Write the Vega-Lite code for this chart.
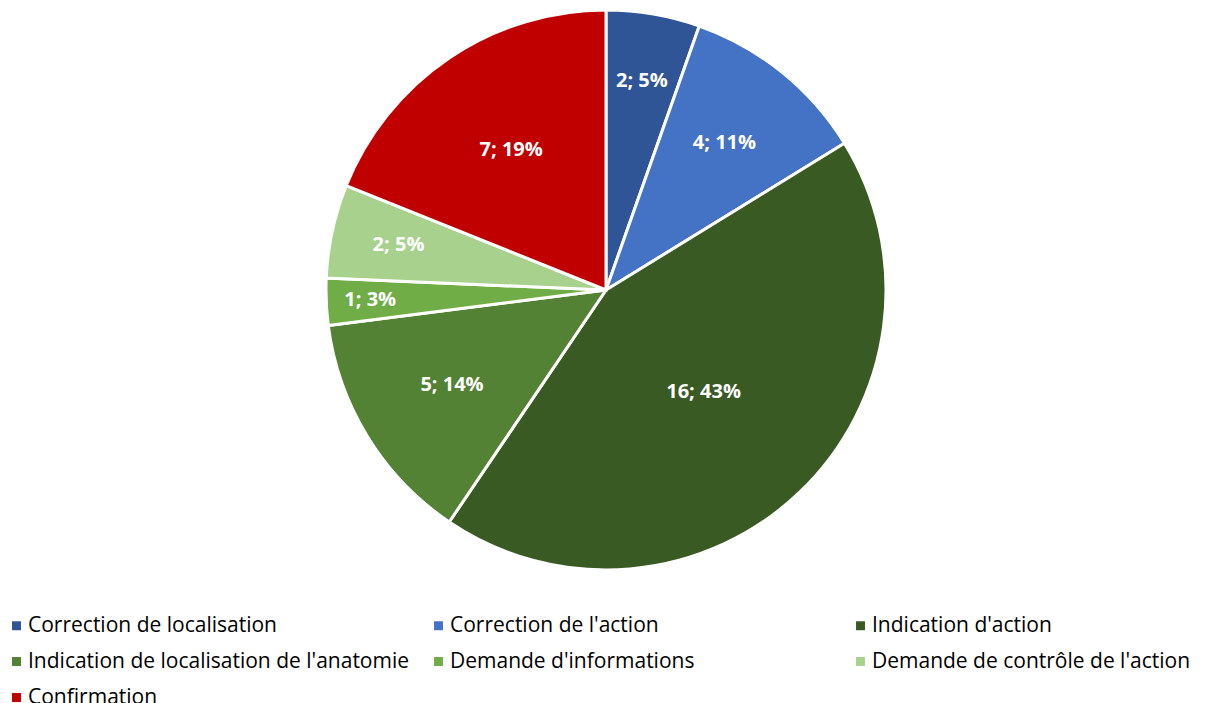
{
  "$schema": "https://vega.github.io/schema/vega-lite/v6.json",
  "width": 1200,
  "height": 580,
  "autosize": "none",
  "padding": {"left": 6, "right": 0, "top": 0, "bottom": 123},
  "background": "white",
  "data": {
    "values": [
      {"idx": 1, "cat": "Correction de localisation", "value": 2},
      {"idx": 2, "cat": "Correction de l'action", "value": 4},
      {"idx": 3, "cat": "Indication d'action", "value": 16},
      {"idx": 4, "cat": "Indication de localisation de l'anatomie", "value": 5},
      {"idx": 5, "cat": "Demande d'informations", "value": 1},
      {"idx": 6, "cat": "Demande de contrôle de l'action", "value": 2},
      {"idx": 7, "cat": "Confirmation", "value": 7}
    ]
  },
  "transform": [
    {"joinaggregate": [{"op": "sum", "field": "value", "as": "total"}]},
    {"calculate": "datum.value + '; ' + round(100 * datum.value / datum.total) + '%'", "as": "label"}
  ],
  "encoding": {
    "theta": {"field": "value", "type": "quantitative", "stack": true},
    "order": {"field": "idx", "type": "ordinal"}
  },
  "layer": [
    {
      "mark": {"type": "arc", "outerRadius": 280, "stroke": "white", "strokeWidth": 3},
      "encoding": {
        "color": {
          "field": "cat",
          "type": "nominal",
          "scale": {
            "domain": ["Correction de localisation", "Correction de l'action", "Indication d'action", "Indication de localisation de l'anatomie", "Demande d'informations", "Demande de contrôle de l'action", "Confirmation"],
            "range": ["#2F5597", "#4472C4", "#3A5A24", "#548235", "#70AD47", "#A9D18E", "#C00000"]
          },
          "legend": {
            "title": null,
            "orient": "none",
            "legendX": 0,
            "legendY": 615,
            "columns": 3,
            "direction": "horizontal",
            "gridAlign": "all",
            "columnPadding": 18,
            "rowPadding": 14,
            "symbolType": "square",
            "symbolSize": 80,
            "symbolStrokeWidth": 0,
            "labelFont": "Open Sans",
            "labelFontSize": 21,
            "labelColor": "#000000",
            "labelOffset": 1,
            "labelLimit": 500
          }
        }
      }
    },
    {
      "mark": {"type": "text", "font": "Open Sans", "fontWeight": "bold", "fontSize": 20, "color": "white", "align": "center", "baseline": "middle"},
      "encoding": {
        "radius": {"field": "value", "type": "quantitative", "scale": {"type": "log", "domain": [1, 16], "range": [236, 141]}},
        "text": {"field": "label", "type": "nominal"}
      }
    }
  ]
}
